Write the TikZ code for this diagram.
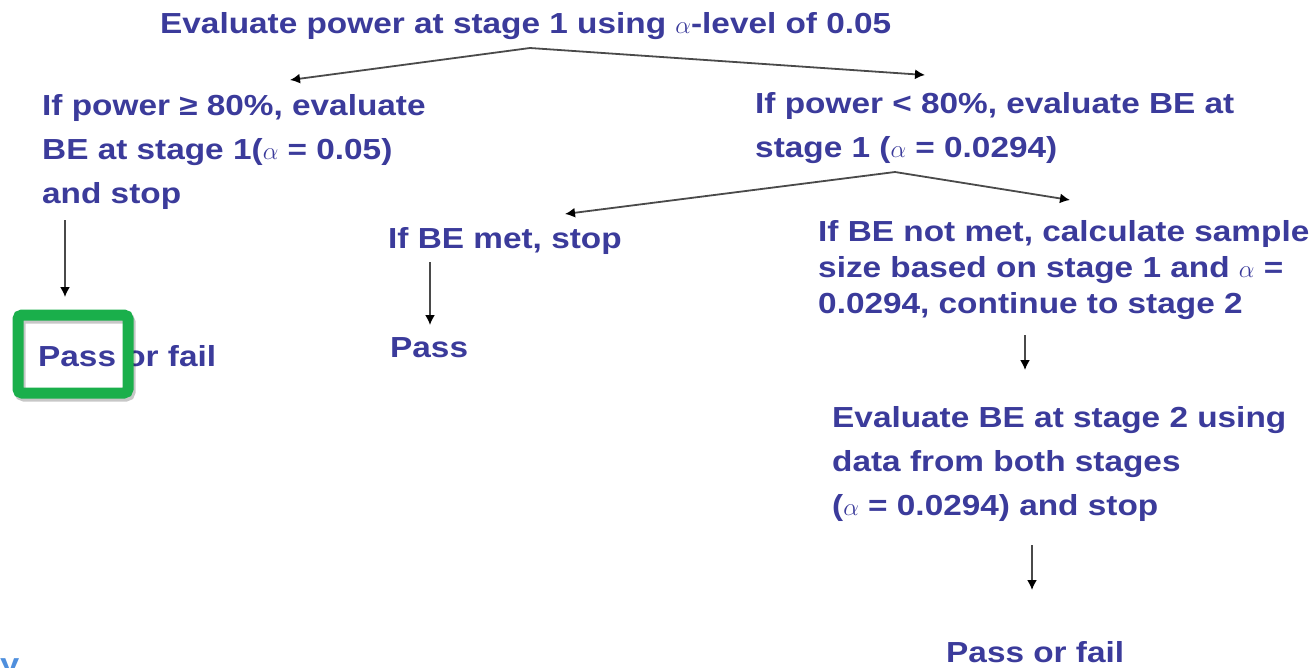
\documentclass[tikz,border=0pt]{standalone}
\usepackage{fontspec}
\setmainfont[FakeStretch=1.15]{Liberation Sans}
\usetikzlibrary{arrows.meta}
\definecolor{flowtext}{HTML}{3B3B9B}
\definecolor{flowarrow}{HTML}{4A4A4A}
\definecolor{markgreen}{HTML}{1AAF4B}
\definecolor{cutblue}{HTML}{4F8FDD}

\begin{document}
\begin{tikzpicture}[x=1pt, y=-1pt,
    txt/.style={anchor=north west, inner sep=0pt, align=left, text=flowtext,
        font=\bfseries\fontsize{29}{44}\selectfont},
    arr/.style={-{Latex[length=10pt,width=10pt,color=black]}, line width=1.8pt, flowarrow}]
    \useasboundingbox (0,0) rectangle (1316,667);
    \fill[white] (0,0) rectangle (1316,667);

    % Decision text
    \node[txt] (title) at (160,12) {Evaluate power at stage 1 using $\alpha$-level of 0.05};
    \node[txt] (high) at (42,94) {If power ≥ 80\%, evaluate\\BE at stage 1($\alpha$ = 0.05)\\and stop};
    \node[txt] (low) at (755,92) {If power < 80\%, evaluate BE at\\stage 1 ($\alpha$ = 0.0294)};
    \node[txt] (met) at (388,227) {If BE met, stop};
    \node[txt, font=\bfseries\fontsize{29}{36}\selectfont] (notmet) at (818,220)
        {If BE not met, calculate sample\\size based on stage 1 and $\alpha$ =\\0.0294, continue to stage 2};
    \node[txt] (stagetwo) at (832,406) {Evaluate BE at stage 2 using\\data from both stages\\($\alpha$ = 0.0294) and stop};

    % Outcomes
    \node[txt] (passfailA) at (38,345) {Pass or fail};
    \node[txt] (passB) at (390,337) {Pass};
    \node[txt] (passfailC) at (946,641) {Pass or fail};
    \node[anchor=base west, inner sep=0pt, text=cutblue,
        font=\bfseries\fontsize{30}{36}\selectfont] (cut) at (0,674) {y};

    % Arrow ends
    \coordinate (split1) at (530,48);
    \coordinate (toHigh) at (290,80);
    \coordinate (toLow) at (925,75);
    \coordinate (split2) at (895,172);
    \coordinate (toMet) at (565,214);
    \coordinate (toNotmet) at (1070,200);

    % Branching arrows
    \draw[arr] (split1) -- (toHigh);
    \draw[arr] (split1) -- (toLow);
    \draw[arr] (split2) -- (toMet);
    \draw[arr] (split2) -- (toNotmet);

    % Downward arrows
    \foreach \x/\ya/\yb in {65/220/297, 430/262/325, 1025/335/370, 1032/545/590} {
        \draw[arr] (\x,\ya) -- (\x,\yb);
    }

    % Highlight box with its shadow
    \draw[black, opacity=0.22, line width=11pt, rounded corners=4pt]
        (20,318) rectangle (130,396);
    \draw[markgreen, line width=11pt, rounded corners=4pt]
        (18,315) rectangle (128,393);
\end{tikzpicture}
\end{document}
